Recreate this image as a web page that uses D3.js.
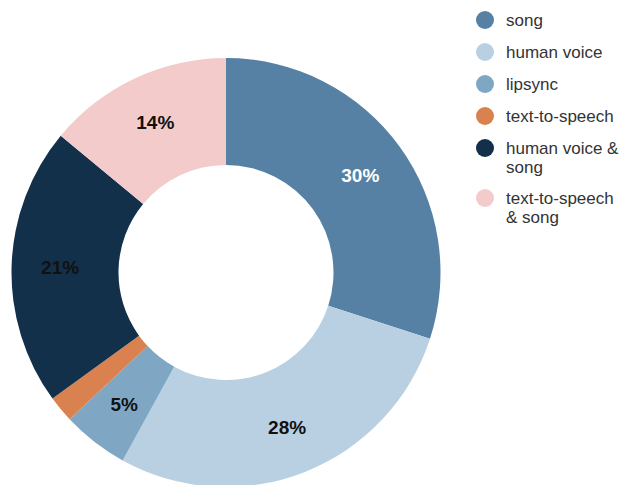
<!DOCTYPE html>
<html>
<head>
<meta charset="utf-8">
<script src="https://cdn.jsdelivr.net/npm/d3@7"></script>
<style>
  html, body { margin: 0; padding: 0; background: #fff; }
  svg { display: block; }
</style>
</head>
<body>
<svg id="chart" width="623" height="485"></svg>
<script>
// Share of each audio type
const categories = ["song", "human voice", "lipsync", "text-to-speech", "human voice & song", "text-to-speech & song"];
const values = [30, 28, 5, 2, 21, 14];
const colors = ["#5681a4", "#b8d0e2", "#7fa7c4", "#d9824f", "#12304a", "#f3cbcb"];
const labelColors = ["#ffffff", "#111111", "#111111", "#111111", "#111111", "#111111"];
// Legend text, split over lines
const legendLines = [["song"], ["human voice"], ["lipsync"], ["text-to-speech"], ["human voice &", "song"], ["text-to-speech", "& song"]];

const svg = d3.select("#chart");
const cx = 226, cy = 272.5, outerR = 214.5, innerR = 107.5;

const data = categories.map((c, i) => ({ name: c, value: values[i], color: colors[i], label: labelColors[i] }));

const pie = d3.pie().sort(null).value(d => d.value);
const arc = d3.arc().innerRadius(innerR).outerRadius(outerR);
// Percent labels sit slightly outside the ring's middle
const labelArc = d3.arc().innerRadius(166).outerRadius(166);
const arcs = pie(data);

const g = svg.append("g").attr("transform", `translate(${cx},${cy})`);

g.selectAll("path.slice")
  .data(arcs)
  .join("path")
  .attr("class", "slice")
  .attr("d", arc)
  .attr("fill", d => d.data.color);

g.selectAll("text.pct")
  .data(arcs.filter(d => d.data.value >= 5))
  .join("text")
  .attr("class", "pct")
  .attr("transform", d => `translate(${labelArc.centroid(d)})`)
  .attr("text-anchor", "middle")
  .attr("dy", "0.36em")
  .attr("font-family", "Arial, 'Liberation Sans', sans-serif")
  .attr("font-weight", "bold")
  .attr("font-size", 19)
  .attr("fill", d => d.data.label)
  .text(d => d.data.value + "%");

// Legend: one dot per item, text wraps to a second line where needed
const legend = svg.append("g");
let y = 20;
legendLines.forEach((lines, i) => {
  legend.append("circle")
    .attr("cx", 485).attr("cy", y).attr("r", 9)
    .attr("fill", colors[i]);
  const t = legend.append("text")
    .attr("y", y)
    .attr("font-family", "Arial, 'Liberation Sans', sans-serif")
    .attr("font-size", 17)
    .attr("fill", "#333");
  lines.forEach((line, j) => {
    t.append("tspan")
      .attr("x", 506)
      .attr("dy", j === 0 ? "0.35em" : 19)
      .text(line);
  });
  y += 32 + (lines.length - 1) * 18;
});
</script>
</body>
</html>
